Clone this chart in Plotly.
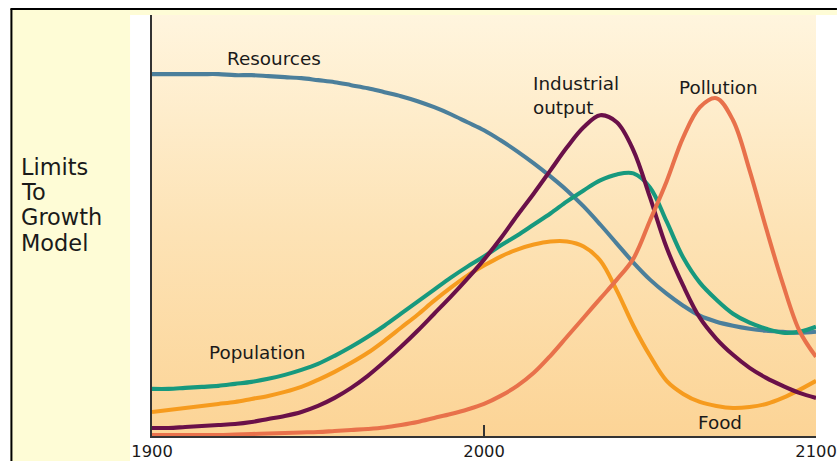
import plotly.graph_objects as go

years = list(range(1900, 2101, 5))

resources = [361, 361, 361, 361, 361, 360, 360, 359, 358, 357,
             355, 353, 350, 347, 343, 339, 334, 328, 321, 313,
             305, 295, 284, 272, 259, 245, 229, 211, 192, 173,
             156, 142, 130, 120, 114, 110, 107, 105, 104, 103,
             104]
population = [47, 47, 48, 49, 50, 52, 54, 57, 61, 66,
              72, 80, 89, 99, 110, 122, 134, 146, 158, 169,
              179, 190, 200, 211, 222, 234, 245, 255, 261, 262,
              248, 214, 178, 153, 136, 122, 113, 107, 103, 104,
              109]
food = [24, 26, 28, 30, 32, 34, 37, 40, 44, 49,
        56, 64, 73, 83, 95, 108, 121, 135, 148, 160,
        170, 179, 186, 191, 194, 194, 189, 175, 145, 110,
        80, 55, 42, 34, 30, 28, 29, 32, 38, 46,
        55]
industrial = [8, 8, 9, 10, 11, 12, 14, 17, 20, 24,
              30, 38, 48, 60, 74, 89, 105, 122, 139, 157,
              176, 197, 220, 242, 265, 288, 308, 320, 313, 285,
              238, 188, 150, 118, 97, 81, 68, 58, 50, 43,
              38]
pollution = [1, 1, 1, 1, 1, 1.5, 2, 2.5, 3, 3.5,
             4, 5, 6, 7, 8.5, 11, 14, 18, 22, 26.5,
             32, 40, 50, 63, 80, 99, 118, 137, 156, 177,
             215, 254, 298, 328, 337, 315, 265, 207, 152, 105,
             79]

tick_vals = [1900, 2000, 2100]
tick_text = ["1900", "2000", "2100"]

series = [
    ("Resources", resources, "#4b7f9b"),
    ("Population", population, "#17997e"),
    ("Food", food, "#f69b1e"),
    ("Industrial output", industrial, "#6a1049"),
    ("Pollution", pollution, "#e8714b"),
]

X0, X1 = 1900, 2100
Y0, Y1 = 0, 420
W, H = 837, 461            # reference picture size
CW, CH = 849, 473          # area that ends up photographed (then shrunk to W x H)
SX, SY = CW / W, CH / H
S = (SX + SY) / 2

fig = go.Figure()

# gradient plot background
fig.add_trace(go.Scatter(
    x=[X0, X1, X1, X0, X0], y=[Y0, Y0, Y1, Y1, Y0],
    mode="lines", line=dict(width=0), fill="toself",
    fillgradient=dict(type="vertical",
                      colorscale=[[0, "#fcd496"], [0.5, "#fde3b6"], [1, "#fff5de"]]),
    hoverinfo="skip", showlegend=False,
))

for name, vals, color in series:
    fig.add_trace(go.Scatter(
        x=years, y=vals, mode="lines", name=name,
        line=dict(color=color, width=4 * S, shape="spline", smoothing=1.0),
        hoverinfo="skip", showlegend=False,
    ))

FONT = "DejaVu Sans"
TXT = "#1a1a1a"

# helpers in reference-picture pixels
def px2year(px):
    return X0 + (px - 150) / 666 * (X1 - X0)

def py2val(py):
    return 435 - py

def pxx(px):
    return (px - 150) / 666

def pxy(py):
    return (435 - py) / 420

labels = [
    ("Resources", 272, 58, "center", "center"),
    ("Industrial<br>output", 530, 95, "left", "left"),
    ("Pollution", 718, 87, "center", "center"),
    ("Population", 255, 352, "center", "center"),
    ("Food", 720, 422, "center", "center"),
]
for text, lx, ly, anchor, align in labels:
    fig.add_annotation(x=px2year(lx), y=py2val(ly), text=text, showarrow=False,
                       xanchor=anchor, yanchor="middle", align=align,
                       font=dict(family=FONT, size=18 * S, color=TXT))

title_lines = ["Limits", "To", "Growth", "Model"]
for i, t in enumerate(title_lines):
    fig.add_annotation(xref="paper", yref="paper", x=pxx(17), y=pxy(167 + 25 * i),
                       text=t, showarrow=False, xanchor="left", yanchor="middle",
                       font=dict(family=FONT, size=22 * S, color=TXT))

shapes = [
    dict(type="rect", xref="paper", yref="paper", x0=pxx(8), x1=pxx(128), y0=pxy(H), y1=pxy(8),
         fillcolor="#fefcd6", line=dict(width=0), layer="below"),
    dict(type="rect", xref="paper", yref="paper", x0=pxx(8), x1=pxx(W), y0=pxy(15), y1=pxy(8),
         fillcolor="#fefcd6", line=dict(width=0), layer="below"),
    dict(type="line", xref="paper", yref="paper", x0=pxx(8), x1=pxx(W), y0=pxy(9), y1=pxy(9),
         line=dict(color="#000000", width=2)),
    dict(type="line", xref="paper", yref="paper", x0=pxx(9), x1=pxx(9), y0=pxy(9), y1=pxy(H),
         line=dict(color="#000000", width=2)),
]

fig.update_layout(
    width=CW, height=CH,
    margin=dict(l=150 * SX, r=21 * SX, t=15 * SY, b=26 * SY),
    paper_bgcolor="#ffffff", plot_bgcolor="#ffffff",
    shapes=shapes,
    hovermode=False,
    xaxis=dict(range=[X0, X1], tickvals=tick_vals, ticktext=tick_text,
               ticks="inside", ticklen=11 * SY, tickwidth=1.5, tickcolor="#333333",
               showline=True, linecolor="#333333", linewidth=1.5,
               showgrid=False, zeroline=False,
               tickfont=dict(family=FONT, size=16 * S, color=TXT)),
    yaxis=dict(range=[Y0, Y1], showticklabels=False, ticks="",
               showline=True, linecolor="#333333", linewidth=1.5,
               showgrid=False, zeroline=False),
)

post = (
    "document.documentElement.style.margin='0';"
    "document.documentElement.style.padding='0';"
    "document.body.style.margin='0';"
    "document.body.style.padding='0';"
)
fig.write_html("out.html", post_script=post, config={"displayModeBar": False})
